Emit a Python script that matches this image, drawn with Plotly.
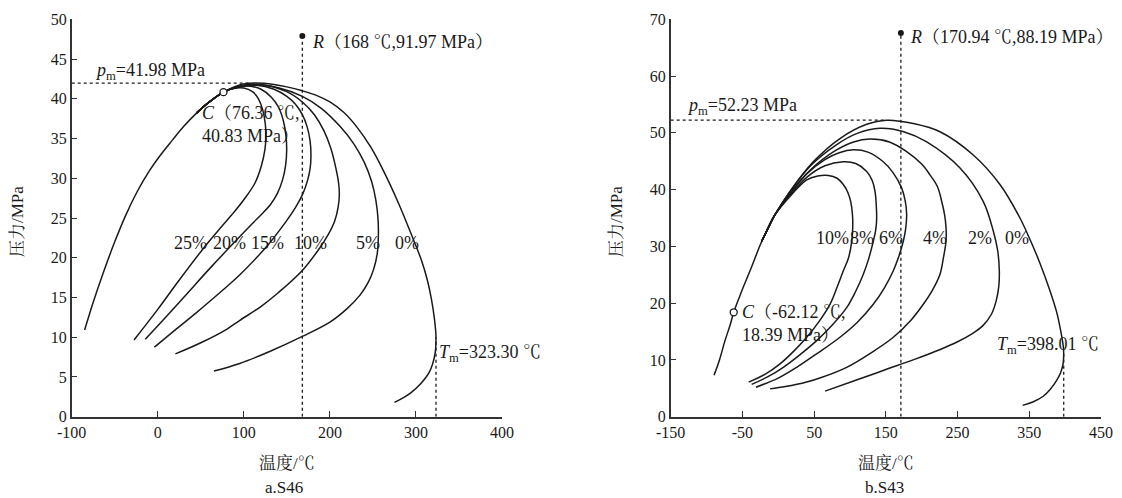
import plotly.graph_objects as go

# ---------------- S46 (left) ----------------
s46_bubble_T = [-85, -75, -63, -50, -37, -24, -10, 3, 17, 30, 45, 60, 76.36]
s46_bubble_P = [10.9, 14.4, 18.2, 22.0, 25.4, 28.3, 30.9, 32.9, 34.8, 36.5, 38.2, 39.6, 40.83]

s46_T_25 = [76.36, 88, 100, 110, 117, 122, 125, 125.6, 124.5, 120.5, 113, 100, 86, 74, 57.6, 25, 0, -27.6]
s46_P_25 = [40.83, 41.3, 41.35, 40.9, 40.0, 38.6, 36.8, 35.2, 33.6, 31.6, 29.4, 27.3, 25.4, 23.9, 21.8, 17.2, 13.5, 9.65]
s46_T_20 = [76.36, 90, 105, 120, 132, 140.5, 146, 149, 149.8, 148.5, 145, 139, 131, 121, 110, 86, 60, 35, 10, -14.5]
s46_P_20 = [40.83, 41.4, 41.6, 41.2, 40.2, 38.9, 37.2, 35.3, 33.5, 31.6, 29.8, 28.1, 26.7, 25.5, 24.3, 21.6, 18.6, 15.6, 12.6, 9.74]
s46_T_15 = [76.36, 95, 115, 135, 150, 160, 168, 173.5, 177, 178, 177, 174, 168.4, 161, 150, 139, 128, 119, 95.7, 70, 45, 20, -3.9]
s46_P_15 = [40.83, 41.5, 41.7, 41.2, 40.3, 39.3, 38.0, 36.5, 34.7, 32.8, 31.2, 29.7, 28.0, 26.5, 24.7, 23.1, 21.6, 20.5, 17.9, 15.4, 13.1, 10.9, 8.75]
s46_T_10 = [76.36, 100, 125, 150, 168, 182, 193, 201, 206.5, 210, 211, 209.5, 205.5, 198, 188, 168, 140, 119, 95, 80, 50, 20.5]
s46_P_10 = [40.83, 41.7, 41.7, 40.9, 39.6, 38.0, 36.0, 33.8, 31.5, 29.5, 28.0, 26.3, 24.6, 22.9, 21.2, 18.4, 15.6, 13.8, 12.1, 11.0, 9.3, 7.9]
s46_T_5 = [76.36, 105, 140, 168, 190, 212, 228, 240, 248.5, 253.5, 256, 256.3, 255, 251, 245, 235, 220, 200, 168, 130, 95.3, 65.3]
s46_P_5 = [40.83, 41.8, 41.4, 40.3, 38.8, 36.5, 34.3, 32.0, 29.6, 27.2, 24.8, 22.5, 20.5, 18.6, 17.0, 15.3, 13.6, 11.9, 10.1, 8.2, 6.7, 5.75]
s46_T_0 = [76.36, 95, 112, 135, 150, 168, 185, 200, 216, 231, 247, 262, 280, 297, 306, 313, 318, 321.5, 323.3, 322, 316, 306, 294, 284, 275]
s46_P_0 = [40.83, 41.75, 41.98, 41.8, 41.5, 41.0, 40.4, 39.6, 38.3, 36.5, 34.0, 31.0, 26.8, 22.3, 19.8, 17.3, 14.8, 12.3, 10.0, 7.8, 5.7, 4.2, 3.0, 2.3, 1.8]

s46_labels = ["25%", "20%", "15%", "10%", "5%", "0%"]
s46_label_T = [38, 83, 127.5, 177.5, 244, 290]
s46_label_P = 21.8

s46_R = (168, 47.9)
s46_pm = 41.98
s46_pm_T_end = 108
s46_C = (76.36, 40.83)
s46_Tm = (323.3, 10.0)

# ---------------- S43 (right) ----------------
s43_bubble_T = [-89.6, -82, -74.3, -67, -62.12, -52, -39.4, -23, -12, -5]
s43_bubble_P = [7.3, 10.0, 13.4, 16.2, 18.39, 21.8, 25.7, 30.9, 33.8, 35.5]

s43_T_10 = [-5, 15, 39.6, 55, 69.8, 82, 90.7, 97, 101, 103.5, 103.8, 102.4, 98, 90.7, 82, 72.1, 57, 39.6, 22, 2.4, -18, -41.3]
s43_P_10 = [35.5, 38.6, 41.7, 42.4, 42.5, 42.0, 40.9, 39.5, 37.9, 35.5, 33.3, 30.9, 28.0, 25.7, 22.8, 19.8, 16.8, 14.0, 11.6, 9.3, 7.5, 6.1]
s43_T_8 = [-5, 15, 40, 65, 90.7, 108, 123.3, 131, 134.9, 136.5, 137.2, 136, 132.5, 126, 118.6, 108, 95.4, 75, 53.6, 30, 7, -15, -37.1]
s43_P_8 = [35.5, 38.8, 42.2, 44.2, 44.9, 44.6, 43.2, 41.6, 39.7, 37.5, 35.0, 33.0, 30.9, 27.8, 25.1, 22.1, 19.2, 16.1, 13.4, 10.9, 8.7, 7.0, 5.7]
s43_T_6 = [-5, 15, 40, 65, 85, 104.6, 125, 146.4, 160, 172, 177, 179, 177.5, 174.3, 168, 160.4, 148, 132.5, 110, 86, 55, 25.7, 0, -31.1]
s43_P_6 = [35.5, 39.0, 42.8, 45.3, 46.5, 47.0, 46.6, 44.9, 43.0, 40.3, 38.0, 35.6, 33.0, 30.9, 28.2, 25.7, 22.7, 19.8, 16.6, 14.0, 11.2, 8.7, 6.8, 5.2]
s43_T_4 = [-5, 15, 45, 80, 105, 127.9, 155, 179, 200, 211.5, 222, 227.9, 232, 233.9, 233.9, 230, 225.5, 215, 202.2, 185, 160.4, 130, 95.4, 60, 39.6, 10, -11.5]
s43_P_4 = [35.5, 39.2, 43.5, 46.9, 48.4, 48.9, 48.4, 46.7, 44.5, 42.6, 40.5, 37.9, 35.5, 33.3, 30.9, 27.8, 25.1, 22.3, 19.8, 17.0, 14.0, 11.3, 8.7, 6.9, 6.1, 5.3, 4.9]
s43_T_2 = [-5, 15, 45, 80, 110, 141.8, 175, 207, 253.4, 285.9, 299.8, 306, 308.2, 307.5, 304, 297, 285, 270, 250, 225, 190, 150, 110, 65.2]
s43_P_2 = [35.5, 39.4, 44.2, 47.8, 49.9, 50.8, 50.2, 48.4, 43.8, 37.9, 32.7, 29.2, 25.7, 23.0, 20.5, 18.0, 16.0, 14.6, 13.2, 11.8, 10.1, 8.3, 6.5, 4.5]
s43_T_0 = [-5, 16.3, 48.8, 86, 123.3, 151, 190, 225.5, 271.9, 309.1, 337, 351, 365, 378, 388, 394, 397.3, 398.0, 397, 393.5, 388.2, 379, 369.5, 355, 340.8]
s43_P_0 = [35.5, 39.7, 44.9, 49.0, 51.5, 52.23, 51.6, 50.2, 46.1, 40.9, 35.0, 31.2, 27.0, 22.5, 18.5, 15.0, 12.5, 11.0, 9.2, 7.7, 6.4, 4.8, 3.6, 2.6, 2.0]

s43_labels = ["10%", "8%", "6%", "4%", "2%", "0%"]
s43_label_T = [75.6, 116.3, 156.9, 218.6, 281.3, 333.5]
s43_label_P = 31.5

s43_R = (170.94, 67.6)
s43_pm = 52.23
s43_pm_T_end = 151
s43_C = (-62.12, 18.39)
s43_Tm = (398.01, 11.0)

s46_xticks = [-100, 0, 100, 200, 300, 400]
s43_xticks = [-150, -50, 50, 150, 250, 350, 450]
s46_yticks = list(range(0, 51, 5))
s43_yticks = list(range(0, 71, 10))

# ---------------- figure ----------------
FONT = "Liberation Serif, 'Noto Serif CJK SC', 'Noto Sans CJK SC', serif"
INK = "#1a1a1a"
W, H = 1122, 498
OFF = 8  # the page body margin shifts the figure by this many pixels
fig = go.Figure()


def curve(xs, ys, xa, ya):
    fig.add_trace(go.Scatter(x=xs, y=ys, mode="lines", xaxis=xa, yaxis=ya,
                             line=dict(color=INK, width=1.5, shape="spline", smoothing=1.0),
                             hoverinfo="skip", showlegend=False))


def dotted(xs, ys, xa, ya):
    fig.add_trace(go.Scatter(x=xs, y=ys, mode="lines", xaxis=xa, yaxis=ya,
                             line=dict(color=INK, width=1.3, dash="dot"),
                             hoverinfo="skip", showlegend=False))


# left panel
curve(s46_bubble_T, s46_bubble_P, "x", "y")
for T, P in [(s46_T_25, s46_P_25), (s46_T_20, s46_P_20), (s46_T_15, s46_P_15),
             (s46_T_10, s46_P_10), (s46_T_5, s46_P_5), (s46_T_0, s46_P_0)]:
    curve(s46_bubble_T[-3:-1] + T, s46_bubble_P[-3:-1] + P, "x", "y")
dotted([s46_R[0], s46_R[0]], [0, s46_R[1]], "x", "y")
dotted([-100, s46_pm_T_end], [s46_pm, s46_pm], "x", "y")
dotted([s46_Tm[0], s46_Tm[0]], [0, s46_Tm[1]], "x", "y")

# right panel
curve(s43_bubble_T, s43_bubble_P, "x2", "y2")
for T, P in [(s43_T_10, s43_P_10), (s43_T_8, s43_P_8), (s43_T_6, s43_P_6),
             (s43_T_4, s43_P_4), (s43_T_2, s43_P_2), (s43_T_0, s43_P_0)]:
    curve(s43_bubble_T[-3:-1] + T, s43_bubble_P[-3:-1] + P, "x2", "y2")
dotted([s43_R[0], s43_R[0]], [0, s43_R[1]], "x2", "y2")
dotted([-150, s43_pm_T_end], [s43_pm, s43_pm], "x2", "y2")
dotted([s43_Tm[0], s43_Tm[0]], [0, s43_Tm[1]], "x2", "y2")

# markers
for (pt, xa, ya) in [(s46_R, "x", "y"), (s43_R, "x2", "y2")]:
    fig.add_trace(go.Scatter(x=[pt[0]], y=[pt[1]], mode="markers", xaxis=xa, yaxis=ya,
                             marker=dict(color=INK, size=6), hoverinfo="skip", showlegend=False))
for (pt, xa, ya) in [(s46_C, "x", "y"), (s43_C, "x2", "y2")]:
    fig.add_trace(go.Scatter(x=[pt[0]], y=[pt[1]], mode="markers", xaxis=xa, yaxis=ya,
                             marker=dict(color="white", size=7, line=dict(color=INK, width=1.3)),
                             hoverinfo="skip", showlegend=False))

ann = []
AF = dict(family=FONT, size=18, color=INK)


def text(x, y, s, xref, yref, xanchor="left", yanchor="middle"):
    ann.append(dict(x=x, y=y, text=s, xref=xref, yref=yref, xanchor=xanchor,
                    yanchor=yanchor, showarrow=False, font=AF, align="left"))


for lab, t in zip(s46_labels, s46_label_T):
    text(t, s46_label_P, lab, "x", "y", xanchor="center")
for lab, t in zip(s43_labels, s43_label_T):
    text(t, s43_label_P, lab, "x2", "y2", xanchor="center")

text(177, 47.1, "<i>R</i>（168 ℃,91.97 MPa）", "x", "y")
text(-74.7, 43.4, "<i>p</i><sub>m</sub>=41.98 MPa", "x", "y")
text(48.9, 36.8, "<i>C</i>（76.36 ℃,<br>40.83 MPa）", "x", "y")
text(324, 8.0, "<i>T</i><sub>m</sub>=323.30 ℃", "x", "y")

text(180.9, 66.8, "<i>R</i>（170.94 ℃,88.19 MPa）", "x2", "y2")
text(-130.5, 54.6, "<i>p</i><sub>m</sub>=52.23 MPa", "x2", "y2")
text(-53.4, 16.35, "<i>C</i>（-62.12 ℃,<br>18.39 MPa）", "x2", "y2")
text(302.3, 12.5, "<i>T</i><sub>m</sub>=398.01 ℃", "x2", "y2")


def ptext(px, py, s, angle=0):
    ann.append(dict(x=(px - OFF) / W, y=1 - (py - OFF) / H, text=s, xref="paper", yref="paper",
                    xanchor="center", yanchor="middle", showarrow=False,
                    font=dict(family=FONT, size=17, color=INK), textangle=angle))


ptext(287, 463, "温度/℃")
ptext(886, 463, "温度/℃")
ptext(284, 487, "a.S46")
ptext(884, 487, "b.S43")
ptext(17, 222, "压力/MPa", -90)
ptext(616, 222, "压力/MPa", -90)

xd1 = [(71.7 - OFF) / W, (502 - OFF) / W]
xd2 = [(670.7 - OFF) / W, (1101 - OFF) / W]
yd = [(H - (416.7 - OFF)) / H, (H - (19.3 - OFF)) / H]

axis_common = dict(showline=True, linecolor="#333", linewidth=1.5, ticks="inside",
                   ticklen=6, tickwidth=1.3, tickcolor="#333", showgrid=False,
                   zeroline=False, tickfont=dict(family=FONT, size=16, color=INK),
                   fixedrange=True, automargin=False, tickmode="array")


def lbl(vals):
    return [str(v) for v in vals]


fig.update_layout(
    template="none",
    width=W, height=H, margin=dict(l=0, r=0, t=0, b=0, pad=0, autoexpand=False),
    paper_bgcolor="white", plot_bgcolor="white", showlegend=False,
    xaxis=dict(domain=xd1, range=[-100, 400], tickvals=s46_xticks, ticktext=lbl(s46_xticks),
               anchor="y", **axis_common),
    yaxis=dict(domain=yd, range=[0, 50], tickvals=s46_yticks, ticktext=lbl(s46_yticks),
               anchor="x", **axis_common),
    xaxis2=dict(domain=xd2, range=[-150, 450], tickvals=s43_xticks, ticktext=lbl(s43_xticks),
                anchor="y2", **axis_common),
    yaxis2=dict(domain=yd, range=[0, 70], tickvals=s43_yticks, ticktext=lbl(s43_yticks),
                anchor="x2", **axis_common),
    annotations=ann,
)

fig.write_html("out.html")
